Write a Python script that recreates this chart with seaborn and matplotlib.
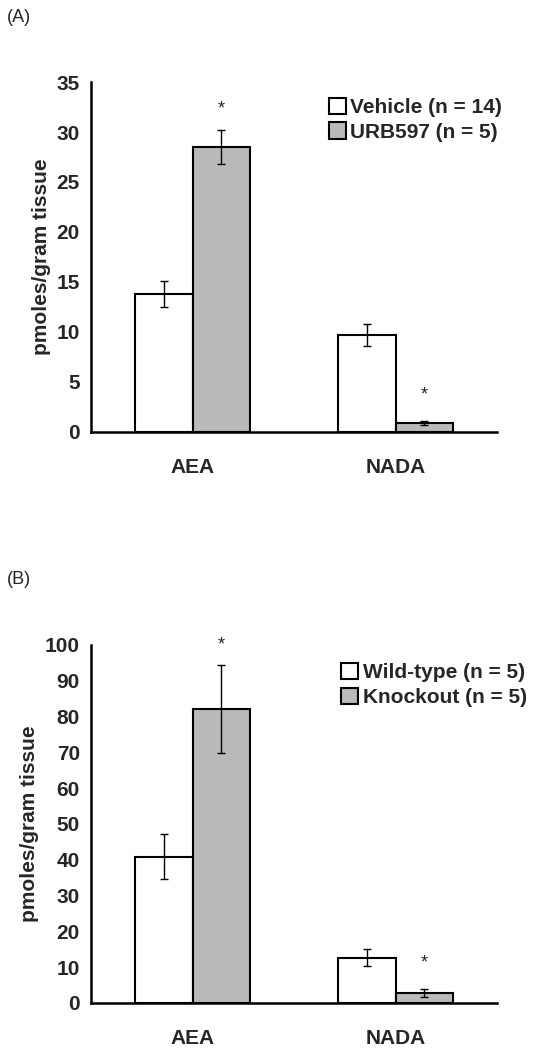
import pandas as pd
import matplotlib.pyplot as plt
import seaborn as sns

# --- Data ---
compounds = ["AEA", "NADA"]

# (A) vehicle vs URB597
groups_a = ["Vehicle (n = 14)", "URB597 (n = 5)"]
vehicle_mean = [13.8, 9.7]
vehicle_sem = [1.3, 1.1]
urb_mean = [28.5, 0.9]
urb_sem = [1.7, 0.2]
stars_a = [32.3, 3.7]  # asterisk heights over the URB597 bars

# (B) wild-type vs knockout
groups_b = ["Wild-type (n = 5)", "Knockout (n = 5)"]
wt_mean = [40.9, 12.6]
wt_sem = [6.3, 2.4]
ko_mean = [82.0, 2.9]
ko_sem = [12.3, 1.1]
stars_b = [100, 11.2]  # asterisk heights over the knockout bars

yticks_a = [0, 5, 10, 15, 20, 25, 30, 35]
yticks_b = [0, 10, 20, 30, 40, 50, 60, 70, 80, 90, 100]

# --- Style ---
sns.set_style("white")
plt.rcParams["font.family"] = ["Liberation Sans", "DejaVu Sans"]

colors = ["white", "#bababa"]
FS = 15


def make_df(groups, means):
    rows = []
    for g, m in zip(groups, means):
        for c, v in zip(compounds, m):
            rows.append({"compound": c, "group": g, "value": v})
    return pd.DataFrame(rows)


def draw_panel(ax, groups, means, sems, stars, yticks, legend_anchor):
    df = make_df(groups, means)
    sns.barplot(data=df, x="compound", y="value", hue="group", hue_order=groups,
                palette=colors, edgecolor="black", linewidth=1.5, width=0.57,
                errorbar=None, ax=ax)

    # error bars and asterisks at the bar centres
    for cont, m, s in zip(ax.containers, means, sems):
        xs = [b.get_x() + b.get_width() / 2 for b in cont]
        ax.errorbar(xs, m, yerr=s, fmt="none", ecolor="black",
                    elinewidth=1, capsize=3, capthick=1)
    star_x = [b.get_x() + b.get_width() / 2 for b in ax.containers[1]]
    for x, y in zip(star_x, stars):
        ax.text(x, y, "*", ha="center", va="center", fontsize=13)

    ax.set_xlim(-0.5, 1.5)
    ax.set_ylim(yticks[0], yticks[-1])
    ax.set_yticks(yticks)
    ax.set_xticks([0, 1])
    ax.set_xticks([-0.5, 0.5, 1.5], minor=True)
    ax.tick_params(axis="x", which="major", length=0, pad=19)
    ax.tick_params(axis="x", which="minor", length=7, width=1.8, direction="out")
    ax.tick_params(axis="y", length=5, width=1.8, direction="out", pad=3)
    for lab in ax.get_xticklabels() + ax.get_yticklabels():
        lab.set_fontsize(FS)
        lab.set_fontweight("bold")
    ax.set_xlabel("")
    ax.set_ylabel("pmoles/gram tissue", fontsize=FS, fontweight="bold")

    sns.despine(ax=ax)
    for side in ["left", "bottom"]:
        ax.spines[side].set_linewidth(1.8)
        ax.spines[side].set_color("black")

    handles, labels = ax.get_legend_handles_labels()
    ax.legend(handles, labels, loc="upper left", bbox_to_anchor=legend_anchor,
              frameon=False, prop={"weight": "bold", "size": FS},
              handlelength=0.85, handleheight=0.85, handletextpad=0.2,
              labelspacing=0.25, borderpad=0, borderaxespad=0)


fig = plt.figure(figsize=(5.37, 10.5), dpi=100)
ax_a = fig.add_axes([0.1695, 0.5886, 0.756, 0.3333])
ax_b = fig.add_axes([0.1695, 0.0448, 0.756, 0.3410])

draw_panel(ax_a, groups_a, [vehicle_mean, urb_mean], [vehicle_sem, urb_sem],
           stars_a, yticks_a, (0.585, 0.955))
draw_panel(ax_b, groups_b, [wt_mean, ko_mean], [wt_sem, ko_sem],
           stars_b, yticks_b, (0.615, 0.95))

fig.text(0.012, 1 - 18 / 1050, "(A)", fontsize=13, va="center")
fig.text(0.012, 1 - 580 / 1050, "(B)", fontsize=13, va="center")

plt.savefig("out.png", dpi=100)
plt.close()
